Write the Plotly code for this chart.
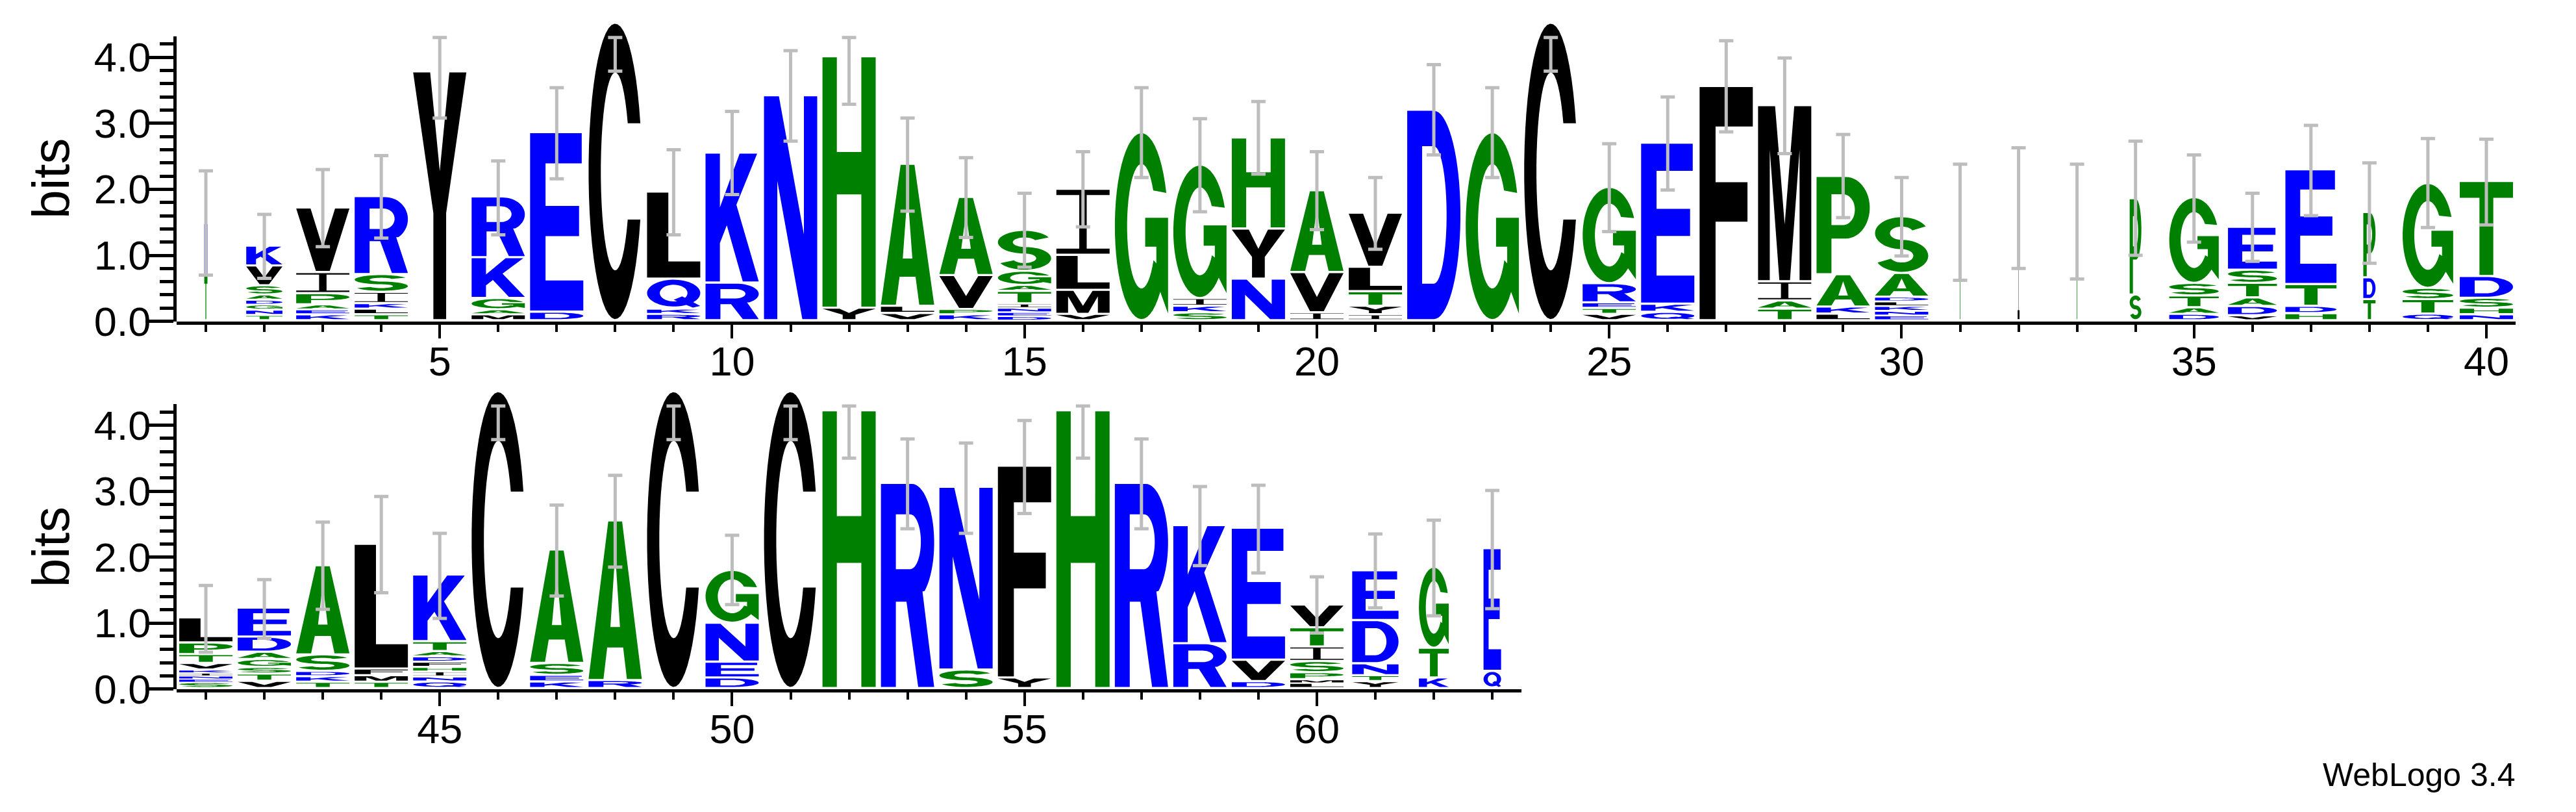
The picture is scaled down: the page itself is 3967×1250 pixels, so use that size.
import math
import plotly.graph_objects as go

# ---------------- data ----------------
POSITIONS = list(range(1, 64))

# letters of each stack, bottom -> top
STACK_LETTERS = [
    "TN", "TNGDASVK", "KEAPIV", "TLKISR", "Y", "MAGKR", "DE", "C", "RKQL", "RK",
    "N", "YH", "VLA", "KPVA", "DENITAGS", "VMLI", "G", "SKIG", "NYH", "IVA",
    "IYTLV", "D", "G", "C", "VTERG", "QKE", "F", "TAIM", "LKAP", "ENKLDAS",
    "T", "I", "T", "SP", "DATSG", "VDATSE", "HDTE", "TDP", "QTSG", "NHSDT",
    "SENIKVTPL", "VTSGADE", "TKDSA", "TMFL", "QNIHFDATK", "C", "KESA", "RA", "C", "DENG",
    "C", "H", "R", "SN", "YF", "H", "R", "RK", "DVE", "LMPSITV",
    "YTNDE", "KTG", "QE",
]

# letter heights in bits, bottom -> top
STACK_HEIGHTS = [
    [0.68, 0.79], [0.08, 0.08, 0.08, 0.07, 0.08, 0.14, 0.30, 0.30],
    [0.09, 0.076, 0.074, 0.17, 0.32, 0.98], [0.09, 0.085, 0.085, 0.17, 0.27, 1.18],
    [3.77], [0.09, 0.076, 0.17, 0.62, 0.92], [0.13, 2.72], [4.51],
    [0.096, 0.079, 0.455, 1.32], [0.57, 1.97],
    [3.41], [0.19, 3.81], [0.11, 0.11, 2.15], [0.09, 0.08, 0.515, 1.185],
    [0.064, 0.063, 0.063, 0.065, 0.19, 0.09, 0.215, 0.62], [0.096, 0.365, 0.53, 1.0],
    [2.85], [0.12, 0.10, 0.115, 2.025], [0.63, 0.76, 1.38], [0.12, 0.61, 1.24],
    [0.09, 0.13, 0.22, 0.37, 0.82], [3.19], [2.85], [4.51],
    [0.096, 0.09, 0.085, 0.29, 1.46], [0.127, 0.123, 2.44], [3.55],
    [0.175, 0.125, 0.29, 2.67], [0.10, 0.107, 0.49, 1.49],
    [0.076, 0.067, 0.074, 0.07, 0.07, 0.36, 0.86],
    [1.50], [1.71], [1.50], [0.39, 1.46], [0.096, 0.10, 0.18, 0.19, 1.30],
    [0.076, 0.14, 0.13, 0.22, 0.20, 0.65], [0.108, 0.11, 0.33, 1.74],
    [0.32, 0.33, 0.99], [0.10, 0.22, 0.17, 1.59], [0.09, 0.10, 0.15, 0.33, 1.44],
    [0.09, 0.053, 0.047, 0.045, 0.045, 0.10, 0.135, 0.175, 0.38],
    [0.11, 0.11, 0.10, 0.12, 0.11, 0.23, 0.44], [0.095, 0.085, 0.08, 0.25, 1.35],
    [0.095, 0.10, 0.10, 1.89], [0.10, 0.075, 0.08, 0.065, 0.08, 0.08, 0.08, 0.15, 1.01],
    [4.50], [0.10, 0.10, 0.18, 1.72], [0.12, 2.42], [4.50], [0.16, 0.24, 0.59, 0.80],
    [4.50], [4.21], [3.11], [0.28, 2.77], [0.16, 3.21], [4.21], [3.11], [0.68, 1.79],
    [0.105, 0.325, 2.0], [0.08, 0.054, 0.106, 0.17, 0.22, 0.29, 0.345],
    [0.105, 0.09, 0.18, 0.655, 0.755], [0.16, 0.45, 1.23], [0.26, 1.86],
]

# relative stack width (occupancy)
STACK_WIDTHS = [
    0.06, 0.68, 1, 1, 1, 1, 1, 1, 1, 1,
    1, 1, 1, 1, 1, 1, 1, 1, 1, 1,
    1, 1, 1, 1, 1, 1, 1, 1, 1, 1,
    0.035, 0.035, 0.035, 0.22, 0.93, 0.92, 0.96, 0.23, 0.95, 1,
    1, 1, 1, 1, 1, 1, 1, 1, 1, 1,
    1, 1, 1, 1, 1, 1, 1, 1, 1, 1,
    0.87, 0.56, 0.33,
]

ERR_LOW = [
    0.70, 0.65, 1.13, 1.26, 3.08, 1.31, 2.16, 3.79, 1.31, 1.92,
    2.73, 3.29, 1.67, 1.27, 0.82, 1.43, 2.18, 1.66, 2.23, 1.39,
    1.09, 2.52, 2.18, 3.79, 1.36, 1.99, 2.87, 2.54, 1.57, 0.99,
    0.62, 0.80, 0.64, 1.00, 1.20, 0.91, 1.60, 0.88, 1.42, 1.46,
    0.56, 0.77, 1.21, 1.46, 1.07, 3.78, 1.41, 1.85, 3.78, 1.28,
    3.78, 3.50, 2.43, 2.36, 2.66, 3.50, 2.43, 1.87, 1.76, 0.85,
    1.23, 1.11, 1.22,
]
ERR_HIGH = [
    2.28, 1.62, 2.30, 2.51, 4.30, 2.43, 3.54, 4.30, 2.60, 3.18,
    4.10, 4.30, 3.08, 2.48, 1.94, 2.57, 3.54, 3.07, 3.33, 2.57,
    2.18, 3.89, 3.54, 4.30, 2.69, 3.40, 4.25, 3.99, 2.83, 2.18,
    2.38, 2.63, 2.38, 2.73, 2.52, 1.94, 2.97, 2.40, 2.77, 2.76,
    1.57, 1.66, 2.53, 2.92, 2.36, 4.29, 2.79, 3.24, 4.29, 2.33,
    4.29, 4.29, 3.79, 3.73, 4.07, 4.29, 3.79, 3.07, 3.09, 1.70,
    2.35, 2.56, 3.01,
]

X_TICKS_TOP = [5, 10, 15, 20, 25, 30, 35, 40]
X_TICKS_BOTTOM = [45, 50, 55, 60]
Y_TICKS = [0, 1, 2, 3, 4]
Y_TICK_LABELS = ["0.0", "1.0", "2.0", "3.0", "4.0"]
Y_MINOR = [round(0.2 * k, 1) for k in range(1, 22) if k % 5 != 0]

# ---------------- styles ----------------
BLUE, GREEN, BLACK = "#0000FF", "#008000", "#000000"
COLOR = {}
for ch in "RKDENQ":
    COLOR[ch] = BLUE
for ch in "SGHTAP":
    COLOR[ch] = GREEN
for ch in "YVMCLFIW":
    COLOR[ch] = BLACK

FONT = "Liberation Sans, Arial, Helvetica, sans-serif"
W, H = 3967, 1250
PX_PER_POS = 90.05
X0_PX = 264
YMAX_AX = 4.32
YMAX_DATA = 4.6
BIT_FRAC = 104.6 / H


# ---------------- glyph outlines (unit box) ----------------
def arc(cx, cy, rx, ry, a0, a1, n=30):
    pts = []
    for i in range(n):
        t = math.radians(a0 + (a1 - a0) * i / (n - 1))
        pts.append((cx + rx * math.cos(t), cy + ry * math.sin(t)))
    return pts


def glyph(ch):
    if ch == "A":
        return [([(0, 0), (.28, 0), (.35, .2), (.65, .2), (.72, 0), (1, 0), (.63, 1), (.37, 1)], False),
                ([(.41, .33), (.59, .33), (.5, .80)], True)]
    if ch == "C":
        return [(arc(.5, .5, .5, .5, 19, 341, 50) + arc(.5, .5, .27, .335, 330.9, 29.1, 40), False)]
    if ch == "D":
        return [([(0, 0)] + arc(.5, .5, .5, .5, -90, 90, 36) + [(0, 1)], False),
                ([(.28, .17)] + arc(.5, .5, .24, .33, -90, 90, 30) + [(.28, .83)], True)]
    if ch == "E":
        return [([(0, 0), (1, 0), (1, .17), (.29, .17), (.29, .42), (.92, .42), (.92, .59),
                  (.29, .59), (.29, .83), (.97, .83), (.97, 1), (0, 1)], False)]
    if ch == "F":
        return [([(0, 0), (.3, 0), (.3, .42), (.9, .42), (.9, .59), (.3, .59), (.3, .83),
                  (1, .83), (1, 1), (0, 1)], False)]
    if ch == "G":
        return [(arc(.5, .5, .5, .5, 21, 315, 46) +
                 [(1, .03), (1, .545), (.57, .545), (.57, .39), (.78, .39), (.78, .30)] +
                 arc(.5, .5, .27, .335, -33, -325, 40), False)]
    if ch == "H":
        return [([(0, 0), (.27, 0), (.27, .45), (.73, .45), (.73, 0), (1, 0), (1, 1), (.73, 1),
                  (.73, .62), (.27, .62), (.27, 1), (0, 1)], False)]
    if ch == "I":
        return [([(0, 0), (1, 0), (1, .08), (.57, .08), (.57, .92), (1, .92), (1, 1), (0, 1),
                  (0, .92), (.43, .92), (.43, .08), (0, .08)], False)]
    if ch == "K":
        return [([(0, 0), (.27, 0), (.27, .3), (.4, .44), (.7, 0), (1, 0), (.58, .6), (.97, 1),
                  (.64, 1), (.27, .58), (.27, 1), (0, 1)], False)]
    if ch == "L":
        return [([(0, 0), (1, 0), (1, .19), (.4, .19), (.4, 1), (0, 1)], False)]
    if ch == "M":
        return [([(0, 0), (.22, 0), (.22, .75), (.4, 0), (.6, 0), (.78, .75), (.78, 0), (1, 0),
                  (1, 1), (.68, 1), (.5, .32), (.32, 1), (0, 1)], False)]
    if ch == "N":
        return [([(0, 0), (.25, 0), (.25, .62), (.72, 0), (1, 0), (1, 1), (.75, 1), (.75, .38),
                  (.28, 1), (0, 1)], False)]
    if ch == "P":
        return [([(0, 0), (.28, 0), (.28, .36)] + arc(.55, .68, .45, .32, -90, 90, 30) + [(0, 1)], False),
                ([(.28, .5)] + arc(.5, .66, .22, .16, -90, 90, 24) + [(.28, .82)], True)]
    if ch == "Q":
        return [(arc(.5, .52, .5, .48, 0, 360, 60), False),
                (arc(.5, .52, .26, .30, 0, 360, 48), True),
                ([(.5, .28), (.66, .40), (1.0, .06), (.86, 0.0)], False)]
    if ch == "R":
        return [([(0, 0), (.28, 0), (.28, .42), (.48, .42), (.7, 0), (1, 0), (.78, .47)] +
                 arc(.58, .71, .42, .29, -55, 90, 28) + [(0, 1)], False),
                ([(.28, .58)] + arc(.55, .715, .2, .135, -90, 90, 24) + [(.28, .85)], True)]
    if ch == "S":
        return [(arc(.5, .7075, .5, .2925, 25, 275, 36) + arc(.5, .7075, .22, .1225, 275, 25, 30), False),
                (arc(.5, .2925, .5, .2925, -155, 95, 36) + arc(.5, .2925, .22, .1225, 95, -155, 30), False)]
    if ch == "T":
        return [([(0, .83), (0, 1), (1, 1), (1, .83), (.63, .83), (.63, 0), (.37, 0), (.37, .83)], False)]
    if ch == "V":
        return [([(0, 1), (.27, 1), (.5, .37), (.73, 1), (1, 1), (.63, 0), (.37, 0)], False)]
    if ch == "W":
        return [([(0, 1), (.2, 1), (.3, .3), (.42, 1), (.58, 1), (.7, .3), (.8, 1), (1, 1),
                  (.82, 0), (.6, 0), (.5, .6), (.4, 0), (.18, 0)], False)]
    if ch == "Y":
        return [([(0, 1), (.32, 1), (.5, .6), (.68, 1), (1, 1), (.62, .43), (.62, 0), (.38, 0),
                  (.38, .43)], False)]
    return [([(0, 0), (1, 0), (1, 1), (0, 1)], False)]


def signed_area(pts):
    s = 0.0
    for i in range(len(pts)):
        x1, y1 = pts[i]
        x2, y2 = pts[(i + 1) % len(pts)]
        s += x1 * y2 - x2 * y1
    return s / 2


def glyph_path(ch, xl, xr, yb, yt):
    parts = []
    for pts, hole in glyph(ch):
        a = signed_area(pts)
        if (a > 0) == hole:
            pts = pts[::-1]
        coords = ["%.4f,%.4f" % (xl + u * (xr - xl), yb + v * (yt - yb)) for u, v in pts]
        parts.append("M" + "L".join(coords) + "Z")
    return "".join(parts)


# ---------------- build figure ----------------
shapes = []
for i, p in enumerate(POSITIONS):
    top = p <= 40
    xref, yref = ("x", "y") if top else ("x2", "y2")
    half = 0.455 * STACK_WIDTHS[i]
    cum = 0.0
    for ch, h in zip(STACK_LETTERS[i], STACK_HEIGHTS[i]):
        gap = min(0.033, 0.4 * h)
        path = glyph_path(ch, p - half, p + half, cum + gap, cum + h)
        shapes.append(dict(type="path", path=path, xref=xref, yref=yref,
                           fillcolor=COLOR[ch], line=dict(width=0), layer="below",
                           fillrule="nonzero"))
        cum += h

fig = go.Figure()
for top in (True, False):
    idx = [i for i, p in enumerate(POSITIONS) if (p <= 40) == top]
    mids = [(ERR_LOW[i] + ERR_HIGH[i]) / 2 for i in idx]
    halfs = [(ERR_HIGH[i] - ERR_LOW[i]) / 2 for i in idx]
    fig.add_trace(go.Scatter(
        x=[POSITIONS[i] for i in idx], y=mids, mode="markers",
        marker=dict(size=1, color="rgba(0,0,0,0)"),
        error_y=dict(type="data", array=halfs, visible=True, color="#BDBDBD",
                     thickness=5, width=11),
        xaxis="x" if top else "x2", yaxis="y" if top else "y2",
        hoverinfo="skip", showlegend=False))
    # carrier traces for the visible bit axes
    fig.add_trace(go.Scatter(x=[POSITIONS[idx[0]]], y=[0], mode="markers",
                             marker=dict(size=1, color="rgba(0,0,0,0)"),
                             xaxis="x" if top else "x2", yaxis="y3" if top else "y4",
                             hoverinfo="skip", showlegend=False))

x0 = X0_PX / W
x1_top = (X0_PX + 40 * PX_PER_POS) / W
x1_bot = (X0_PX + 23 * PX_PER_POS) / W
yb_top = (H - 500) / H
yb_bot = (H - 1083) / H

tickfont = dict(family=FONT, size=63, color="black")


def xaxis(dom, rng, anchor, ticks):
    lo, hi = int(math.ceil(rng[0])), int(math.floor(rng[1]))
    return dict(domain=dom, range=rng, anchor=anchor, showline=True, linewidth=5,
                linecolor="black", ticks="outside", tickmode="array", tickvals=ticks,
                ticklen=21, tickwidth=4, tickcolor="black", tickfont=tickfont,
                ticklabelstandoff=-18,
                showgrid=False, zeroline=False, fixedrange=True,
                minor=dict(tickmode="array",
                           tickvals=[k for k in range(lo, hi + 1) if k not in ticks],
                           ticklen=11, tickwidth=4, tickcolor="black", ticks="outside",
                           showgrid=False))


def ydata(dom_b, anchor):
    return dict(domain=[dom_b, dom_b + YMAX_DATA * BIT_FRAC], range=[0, YMAX_DATA],
                anchor=anchor, visible=False, fixedrange=True)


def yshow(dom_b, anchor):
    return dict(domain=[dom_b, dom_b + YMAX_AX * BIT_FRAC], range=[0, YMAX_AX],
                anchor=anchor, showline=True, linewidth=5, linecolor="black",
                ticks="outside", tickmode="array", tickvals=Y_TICKS, ticktext=Y_TICK_LABELS,
                ticklen=43, tickwidth=5, tickcolor="black", tickfont=tickfont,
                ticklabelstandoff=-21,
                showgrid=False, zeroline=False, fixedrange=True,
                minor=dict(tickmode="array", tickvals=Y_MINOR, ticklen=21, tickwidth=5,
                           tickcolor="black", ticks="outside", showgrid=False))


annotations = [
    dict(text="bits", x=70 / W, y=(H - 274) / H, xref="paper", yref="paper",
         textangle=-90, showarrow=False, font=dict(family=FONT, size=80, color="black"),
         xanchor="center", yanchor="middle"),
    dict(text="bits", x=70 / W, y=(H - 858) / H, xref="paper", yref="paper",
         textangle=-90, showarrow=False, font=dict(family=FONT, size=80, color="black"),
         xanchor="center", yanchor="middle"),
    dict(text="WebLogo 3.4", x=3868 / W, y=0.0, xref="paper", yref="paper",
         showarrow=False, font=dict(family=FONT, size=50, color="black"),
         xanchor="right", yanchor="bottom"),
]

fig.update_layout(
    width=W, height=H, margin=dict(l=0, r=0, t=0, b=0),
    paper_bgcolor="white", plot_bgcolor="rgba(0,0,0,0)",
    xaxis=xaxis([x0, x1_top], [0.5, 40.5], "y", X_TICKS_TOP),
    xaxis2=xaxis([x0, x1_bot], [40.5, 63.5], "y2", X_TICKS_BOTTOM),
    yaxis=ydata(yb_top, "x"),
    yaxis2=ydata(yb_bot, "x2"),
    yaxis3=yshow(yb_top, "x"),
    yaxis4=yshow(yb_bot, "x2"),
    shapes=shapes, annotations=annotations, showlegend=False,
)

fig.write_html("out.html")
